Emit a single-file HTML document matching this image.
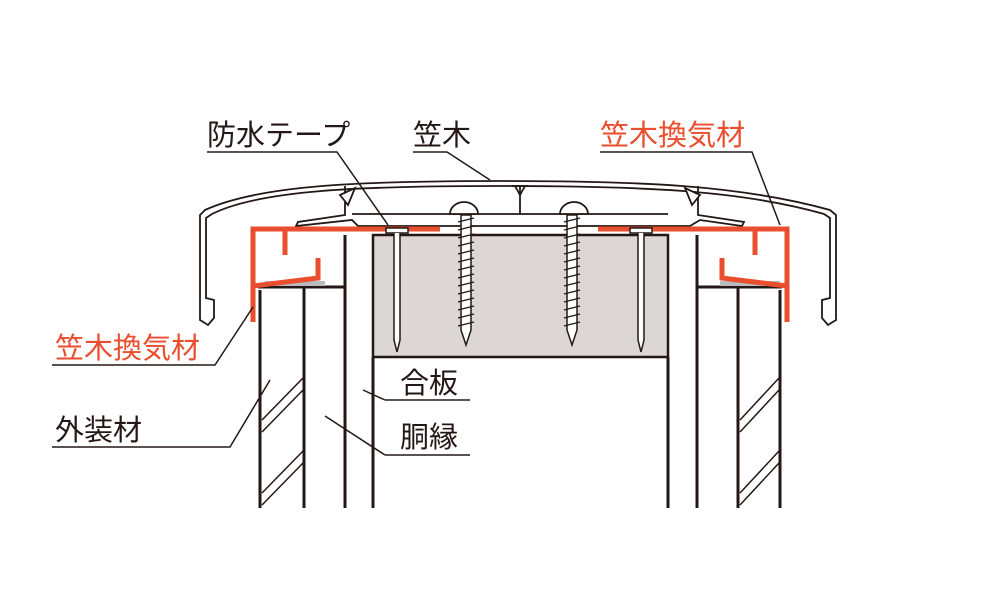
<!DOCTYPE html>
<html><head><meta charset="utf-8"><style>
html,body{margin:0;padding:0;background:#fff;width:1000px;height:597px;overflow:hidden}
text{font-family:"Liberation Sans","Noto Sans CJK JP",sans-serif;font-size:29px}
</style></head><body>
<svg width="1000" height="597" viewBox="0 0 1000 597" xmlns="http://www.w3.org/2000/svg">
<rect x="373" y="235" width="295" height="122" fill="#dcd7d4" stroke="#231815" stroke-width="2.5"/>
<g stroke="#231815" stroke-width="3" fill="none">
<line x1="260" y1="290" x2="260" y2="508"/>
<line x1="304" y1="287" x2="304" y2="508"/>
<line x1="345" y1="235" x2="345" y2="508"/>
<line x1="373" y1="357" x2="373" y2="508"/>
<line x1="668" y1="357" x2="668" y2="508"/>
<line x1="697" y1="235" x2="697" y2="508"/>
<line x1="738" y1="287" x2="738" y2="508"/>
<line x1="780" y1="290" x2="780" y2="508"/>
<line x1="258" y1="287" x2="345" y2="287"/>
<line x1="697" y1="287" x2="782" y2="287"/>
</g>
<g stroke="#231815" stroke-width="1.5">
<line x1="262" y1="420" x2="303" y2="378"/><line x1="262" y1="432" x2="303" y2="390"/>
<line x1="262" y1="493" x2="303" y2="451"/><line x1="262" y1="505" x2="303" y2="463"/>
<line x1="740" y1="420" x2="779" y2="378"/><line x1="740" y1="432" x2="779" y2="390"/>
<line x1="740" y1="493" x2="779" y2="451"/><line x1="740" y1="505" x2="779" y2="463"/>
</g>
<rect x="265" y="281" width="60" height="5" fill="#b8bcbe"/>
<rect x="720" y="281" width="60" height="5" fill="#b8bcbe"/>
<g stroke="#231815" stroke-width="1.8" fill="#fff">
<path d="M205 210 C260 185 360 181 500 181 C640 181 740 185 830 210 L836 215 L836 320 L828 325 L822 318 L822 300 L830 298 L830 218 L824 214 C740 190 640 186 500 186 C360 186 260 190 212 214 L206 218 L206 298 L214 300 L214 318 L208 325 L200 320 L200 215 Z"/>
<path d="M345 186 L345 215 L298 222 L296 226 L352 220 L358 226 L690 226 L700 220 L742 226 L744 222 L698 215 L698 186" fill="none"/>
<path d="M352 214 L668 214 M520 186 L520 214"/>
<path d="M340 195 L355 188 L348 205 Z M700 195 L685 188 L692 205 Z" fill="#fff"/>
<path d="M512 186 L528 186 M515 186 L520 195 L525 186" fill="none"/>
<path d="M450 214 A14 12 0 0 1 478 214 Z M560 214 A14 12 0 0 1 588 214 Z"/>
</g>
<g stroke="#e94e2e" stroke-width="5" fill="none" stroke-linecap="butt">
<path d="M440 229 L253 229 L253 322"/>
<path d="M285 230 L285 255 M253 286 L318 278 L318 258"/>
<path d="M598 229 L787 229 L787 322"/>
<path d="M755 230 L755 255 M787 286 L722 278 L722 258"/>
</g>
<g stroke="#231815" stroke-width="1.5" fill="#fff">
<rect x="386" y="228" width="22" height="5"/>
<path d="M394 233 L394 340 L397 352 L400 340 L400 233"/>
<rect x="630" y="228" width="22" height="5"/>
<path d="M638 233 L638 340 L641 352 L644 340 L644 233"/>
<path d="M461 215 L461 330 L466 345 L471 330 L471 215 Z"/>
<path d="M567 215 L567 330 L572 345 L577 330 L577 215 Z"/>
</g>
<g stroke="#231815" stroke-width="1.3">
<path d="M458 222 L474 218 M458 230 L474 226 M458 238 L474 234 M458 246 L474 242 M458 254 L474 250 M458 262 L474 258 M458 270 L474 266 M458 278 L474 274 M458 286 L474 282 M458 294 L474 290 M458 302 L474 298 M458 310 L474 306 M458 318 L474 314 M458 326 L474 322"/>
<path d="M564 222 L580 218 M564 230 L580 226 M564 238 L580 234 M564 246 L580 242 M564 254 L580 250 M564 262 L580 258 M564 270 L580 266 M564 278 L580 274 M564 286 L580 282 M564 294 L580 290 M564 302 L580 298 M564 310 L580 306 M564 318 L580 314 M564 326 L580 322"/>
</g>
<g stroke="#231815" stroke-width="1.5" fill="none">
<path d="M207 152 L337 152 L388 225"/>
<path d="M413 152 L447 152 L490 180"/>
<path d="M600 152 L752 152 L780 225"/>
<path d="M52 365 L215 365 L253 307"/>
<path d="M52 447 L230 447 L270 380"/>
<path d="M385 400 L470 400 M385 400 L363 390"/>
<path d="M385 455 L470 455 M385 455 L325 416"/>
</g>
<text x="207" y="145" fill="#231815">防水テープ</text>
<text x="413" y="145" fill="#231815">笠木</text>
<text x="600" y="145" fill="#e94e2e">笠木換気材</text>
<text x="55" y="358" fill="#e94e2e">笠木換気材</text>
<text x="55" y="440" fill="#231815">外装材</text>
<text x="400" y="393" fill="#231815">合板</text>
<text x="400" y="447" fill="#231815">胴縁</text>
</svg>
</body></html>
